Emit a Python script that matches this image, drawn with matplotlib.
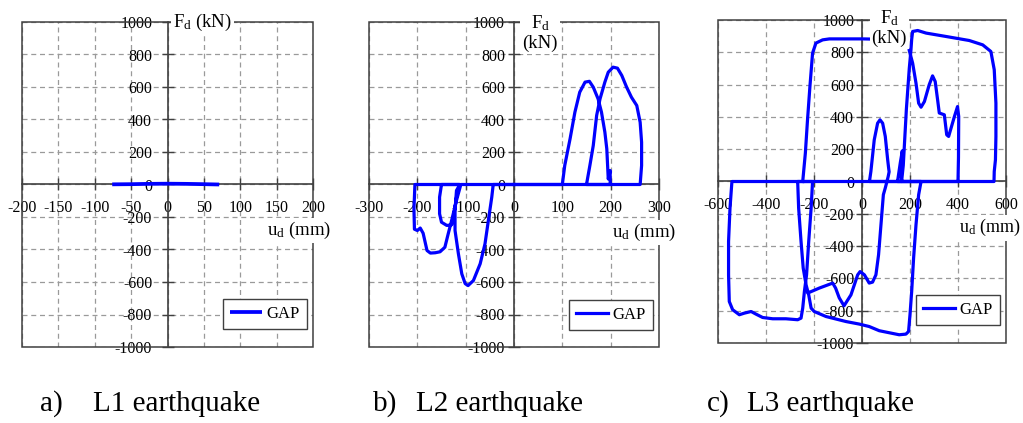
import matplotlib
matplotlib.use('Agg')
import matplotlib.pyplot as plt
from matplotlib.patches import Rectangle

plt.rcParams['font.family'] = ['Liberation Serif', 'DejaVu Serif']
plt.rcParams['mathtext.fontset'] = 'custom'
plt.rcParams['mathtext.rm'] = 'Liberation Serif'
plt.rcParams['mathtext.it'] = 'Liberation Serif:italic'
plt.rcParams['axes.unicode_minus'] = False

# ---------------- data (u_d in mm, F_d in kN) ----------------
# a) L1 earthquake
a_u = [-76, -50, -25, 0, 25, 50, 71]
a_f = [1, 2, 4, 5, 4, 2, 0]

# b) L2 earthquake
b_loop1_u = [100, 105, 116, 126, 136, 147, 156, 164, 174, 181, 188, 192, 194, 195, 199, 199, 200]
b_loop1_f = [0, 117, 281, 445, 568, 630, 635, 599, 527, 445, 322, 219, 96, 34, 86, 14, 0]
b_loop2_u = [150, 157, 164, 171, 178, 188, 195, 205, 214, 223, 233, 243, 254, 261, 264, 264, 261]
b_loop2_f = [0, 117, 240, 425, 527, 630, 691, 722, 716, 671, 599, 537, 486, 383, 260, 117, 0]
b_loop3_u = [-43, -46, -53, -60, -70, -84, -95, -101, -108, -115, -122, -122, -119, -112]
b_loop3_f = [0, -78, -221, -365, -488, -591, -622, -610, -550, -427, -283, -160, -37, 0]
b_loop4_u = [-150, -154, -154, -150, -139, -129, -124, -119, -113]
b_loop4_f = [0, -78, -180, -232, -252, -248, -180, -78, 0]
b_loop5_u = [-205, -207, -206, -200, -194, -188, -180, -173, -163, -153, -143, -136, -129, -119, -110]
b_loop5_f = [0, -150, -275, -283, -268, -300, -406, -422, -420, -414, -386, -302, -221, -98, 0]

# c) L3 earthquake
c_seg1_u = [-247, -236, -227, -217, -206, -192, -164, -136, 3, 100, 175]
c_seg1_f = [0, 176, 382, 588, 795, 857, 877, 883, 883, 880, 878]
c_seg2_u = [197, 211, 225, 236, 246, 260, 280, 294, 305, 315, 322, 343, 353, 361, 385, 398, 403, 402, 400]
c_seg2_f = [811, 733, 609, 485, 460, 495, 599, 654, 619, 506, 424, 413, 289, 279, 402, 464, 402, 150, 0]
c_seg3_u = [148, 160, 168, 163, 165, 172, 185, 197, 204, 207, 211, 232, 267, 350, 447, 503, 537, 551, 558, 558, 556, 551, 550]
c_seg3_f = [0, 120, 190, 40, 0, 100, 450, 700, 815, 880, 929, 935, 919, 898, 873, 846, 805, 692, 485, 279, 134, 62, 0]
c_seg4_u = [-542, -550, -556, -556, -553, -539, -511, -490, -462, -442, -414, -372, -317, -268, -254, -247, -240, -231, -222, -212, -206]
c_seg4_f = [0, -165, -371, -578, -743, -794, -825, -815, -805, -821, -842, -850, -850, -856, -846, -784, -681, -578, -371, -165, 0]
c_seg5_u = [-268, -264, -254, -245, -233, -222, -212, -199, -150, -67, -11, 30, 72, 155, 183, 194, 200, 207, 215, 225, 236, 246]
c_seg5_f = [0, -165, -371, -536, -640, -702, -784, -805, -836, -867, -883, -898, -924, -949, -945, -929, -825, -681, -474, -268, -82, 0]
c_seg6_u = [31, 37, 51, 65, 75, 86, 97, 107, 111, 113, 109, 104, 97, 89, 79, 69, 58, 44, 30, 10, -8, -18, -46, -75, -95, -110, -122, -178, -225]
c_seg6_f = [0, 62, 258, 361, 382, 361, 279, 134, 83, 60, 30, 0, -40, -82, -268, -454, -578, -623, -629, -578, -558, -578, -702, -770, -720, -660, -629, -660, -690]

a_xticks = [-200, -150, -100, -50, 0, 50, 100, 150, 200]
b_xticks = [-300, -200, -100, 0, 100, 200, 300]
c_xticks = [-600, -400, -200, 0, 200, 400, 600]
y_ticks = [-1000, -800, -600, -400, -200, 0, 200, 400, 600, 800, 1000]

captions = [('a)', 'L1 earthquake'), ('b)', 'L2 earthquake'), ('c)', 'L3 earthquake')]

# ---------------- figure ----------------
W, H = 1023, 423
fig = plt.figure(figsize=(W / 100, H / 100), dpi=100)

BLUE = '#0000FF'
DARK = '#404040'
LW = 2.3


def px_axes(l, t, r, b):
    return fig.add_axes([l / W, 1 - b / H, (r - l) / W, (b - t) / H])


def setup(ax, xticks, ypad):
    ax.set_xlim(xticks[0], xticks[-1])
    ax.set_ylim(-1000, 1000)
    ax.set_xticks(xticks)
    ax.set_yticks(y_ticks)
    ax.grid(True, linestyle=(0, (4, 3)), color='#9a9a9a', linewidth=0.9)
    ax.set_axisbelow(True)
    for s in ['left', 'bottom']:
        ax.spines[s].set_position('zero')
        ax.spines[s].set_color(DARK)
        ax.spines[s].set_linewidth(1.2)
    ax.spines['top'].set_visible(False)
    ax.spines['right'].set_visible(False)
    ax.add_patch(Rectangle((0, 0), 1, 1, transform=ax.transAxes, fill=False,
                           ec=DARK, lw=1.1, clip_on=False, zorder=2.6))
    ax.tick_params(direction='inout', length=8, width=1, color=DARK, labelsize=11.5)
    ax.tick_params(axis='y', pad=ypad)
    ax.tick_params(axis='x', pad=7)


def legend(ax, yoff):
    leg = ax.legend(loc='lower right', bbox_to_anchor=(1.007, yoff), frameon=True,
                    fancybox=False, edgecolor=DARK, framealpha=1, fontsize=12,
                    handlelength=1.9, handletextpad=0.3, borderpad=0.4)
    leg.get_frame().set_linewidth(1.0)
    leg.set_zorder(6)


bbox_w = dict(facecolor='white', edgecolor='none', pad=1.5)

# a)
ax = px_axes(22, 22, 313, 347)
setup(ax, a_xticks, 7)
ax.plot(a_u, a_f, color=BLUE, lw=LW + 0.4, zorder=3, label='GAP', solid_capstyle='butt')
ax.text(8, 1000, r'$\mathrm{F_d}$ (kN)', fontsize=13.5, ha='left', va='center',
        bbox=bbox_w, zorder=5)
ax.text(137, -283, r'$\mathrm{u_d}$ (mm)', fontsize=13.5, ha='left', va='center',
        bbox=bbox_w, zorder=5, clip_on=False)
legend(ax, 0.031)

# b)
ax = px_axes(369, 22, 659, 347)
setup(ax, b_xticks, 2.4)
b_u = [0] + b_loop1_u + b_loop2_u + b_loop3_u + b_loop4_u + b_loop5_u + [0]
b_f = [0] + b_loop1_f + b_loop2_f + b_loop3_f + b_loop4_f + b_loop5_f + [0]
ax.plot(b_u, b_f, color=BLUE, lw=LW, zorder=3, label='GAP')
ax.text(54, 935, '$\\mathrm{F_d}$\n(kN)', fontsize=13.5, ha='center', va='center',
        multialignment='center', bbox=bbox_w, zorder=5, linespacing=1.1)
ax.text(203, -295, r'$\mathrm{u_d}$ (mm)', fontsize=13.5, ha='left', va='center',
        bbox=bbox_w, zorder=5, clip_on=False)
legend(ax, 0.028)

# c)
ax = px_axes(718, 20, 1006, 343)
setup(ax, c_xticks, 1.6)
ax.plot(c_seg1_u, c_seg1_f, color=BLUE, lw=LW, zorder=3, label='GAP')
c_u = c_seg2_u + c_seg3_u + c_seg4_u + c_seg5_u + c_seg6_u
c_f = c_seg2_f + c_seg3_f + c_seg4_f + c_seg5_f + c_seg6_f
ax.plot(c_u, c_f, color=BLUE, lw=LW, zorder=3)
ax.text(114, 952, '$\\mathrm{F_d}$\n(kN)', fontsize=13.5, ha='center', va='center',
        multialignment='center', bbox=bbox_w, zorder=5, linespacing=1.1)
ax.text(404, -287, r'$\mathrm{u_d}$ (mm)', fontsize=13, ha='left', va='center',
        bbox=bbox_w, zorder=5, clip_on=False)
legend(ax, 0.031)

# captions
cap_y = 1 - 404 / H
for (lab, txt), x0, x1 in zip(captions, [40, 373, 707], [93, 416, 747]):
    fig.text(x0 / W, cap_y, lab, fontsize=21, ha='left', va='center')
    fig.text(x1 / W, cap_y, txt, fontsize=21, ha='left', va='center')

fig.savefig('out.png', dpi=100)
